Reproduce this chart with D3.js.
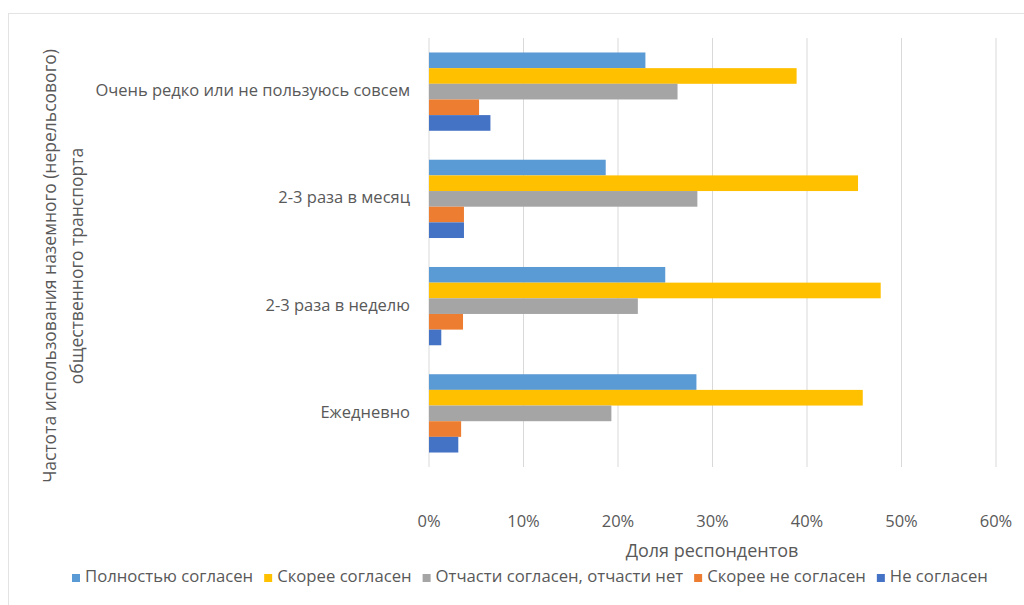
<!DOCTYPE html>
<html>
<head>
<meta charset="utf-8">
<script src="https://cdn.jsdelivr.net/npm/d3@7"></script>
<style>
  body { margin: 0; background: #fff; }
  svg { display: block; font-family: "Open Sans", "Noto Sans", sans-serif; }
</style>
</head>
<body>
<svg width="1024" height="605"></svg>
<script>
// Categories (top to bottom) and series
const categories = [
  "Очень редко или не пользуюсь совсем",
  "2-3 раза в месяц",
  "2-3 раза в неделю",
  "Ежедневно"
];
const seriesNames = [
  "Полностью согласен",
  "Скорее согласен",
  "Отчасти согласен, отчасти нет",
  "Скорее не согласен",
  "Не согласен"
];
const seriesColors = ["#5b9bd5", "#ffc000", "#a5a5a5", "#ed7d31", "#4472c4"];

// values per series, in the order of categories (fractions)
const fullyAgree = [0.229, 0.187, 0.250, 0.283];
const ratherAgree = [0.389, 0.454, 0.478, 0.459];
const partlyAgree = [0.263, 0.284, 0.221, 0.193];
const ratherDisagree = [0.053, 0.037, 0.036, 0.034];
const disagree = [0.065, 0.037, 0.013, 0.031];
const seriesValues = [fullyAgree, ratherAgree, partlyAgree, ratherDisagree, disagree];

const xTicks = [0, 0.1, 0.2, 0.3, 0.4, 0.5, 0.6];

const svg = d3.select("svg");
const textColor = "#595959";

// chart border
svg.append("rect")
  .attr("x", 8.5).attr("y", 13.5)
  .attr("width", 1030).attr("height", 600)
  .attr("fill", "none").attr("stroke", "#e3e3e3");

const margin = { left: 429, right: 28, top: 38, bottom: 138 };
const plotW = 1024 - margin.left - margin.right;
const plotH = 605 - margin.top - margin.bottom;

const x = d3.scaleLinear().domain([0, 0.6]).range([margin.left, margin.left + plotW]);
const y = d3.scaleBand().domain(categories).range([margin.top, margin.top + plotH]).paddingInner(0.27).paddingOuter(0.135);
const ySub = d3.scaleBand().domain(seriesNames).range([0, y.bandwidth()]);

// gridlines
svg.append("g")
  .selectAll("line")
  .data(xTicks)
  .join("line")
  .attr("x1", d => x(d)).attr("x2", d => x(d))
  .attr("y1", margin.top).attr("y2", margin.top + plotH)
  .attr("stroke", "#d9d9d9").attr("stroke-width", 1);

// bars
const groups = svg.append("g")
  .selectAll("g")
  .data(categories)
  .join("g")
  .attr("transform", d => `translate(0,${y(d)})`);

groups.selectAll("rect")
  .data((c, ci) => seriesNames.map((s, si) => ({ s, si, v: seriesValues[si][ci] })))
  .join("rect")
  .attr("x", x(0))
  .attr("y", d => ySub(d.s))
  .attr("width", d => x(d.v) - x(0))
  .attr("height", ySub.bandwidth())
  .attr("fill", d => seriesColors[d.si]);

// category labels
svg.append("g")
  .selectAll("text")
  .data(categories)
  .join("text")
  .attr("x", 410)
  .attr("y", d => y(d) + y.bandwidth() / 2)
  .attr("text-anchor", "end")
  .attr("dominant-baseline", "middle")
  .attr("fill", textColor)
  .attr("font-size", 16.5)
  .text(d => d);

// x tick labels
svg.append("g")
  .selectAll("text")
  .data(xTicks)
  .join("text")
  .attr("x", d => x(d))
  .attr("y", 527)
  .attr("text-anchor", "middle")
  .attr("fill", textColor)
  .attr("font-size", 16.5)
  .text(d3.format(".0%"));

// x axis title
svg.append("text")
  .attr("x", 712).attr("y", 557)
  .attr("text-anchor", "middle")
  .attr("fill", textColor)
  .attr("font-size", 18)
  .text("Доля респондентов");

// y axis title (two lines)
const yTitle = svg.append("text")
  .attr("transform", "translate(56,266) rotate(-90)")
  .attr("text-anchor", "middle")
  .attr("fill", textColor)
  .attr("font-size", 17.5);
yTitle.append("tspan").attr("x", 0).attr("dy", 0).text("Частота использования наземного (нерельсового)");
yTitle.append("tspan").attr("x", 0).attr("dy", 27).text("общественного транспорта");

// legend
const legend = svg.append("g").attr("transform", "translate(72,578)");
let lx = 0;
seriesNames.forEach((name, i) => {
  const item = legend.append("g").attr("transform", `translate(${lx},0)`);
  item.append("rect").attr("x", 0).attr("y", -4).attr("width", 8).attr("height", 8).attr("fill", seriesColors[i]);
  const t = item.append("text")
    .attr("x", 13).attr("y", 0)
    .attr("dominant-baseline", "middle")
    .attr("fill", textColor)
    .attr("font-size", 16.7)
    .text(name);
  lx += 13 + t.node().getComputedTextLength() + 11;
});
</script>
</body>
</html>
